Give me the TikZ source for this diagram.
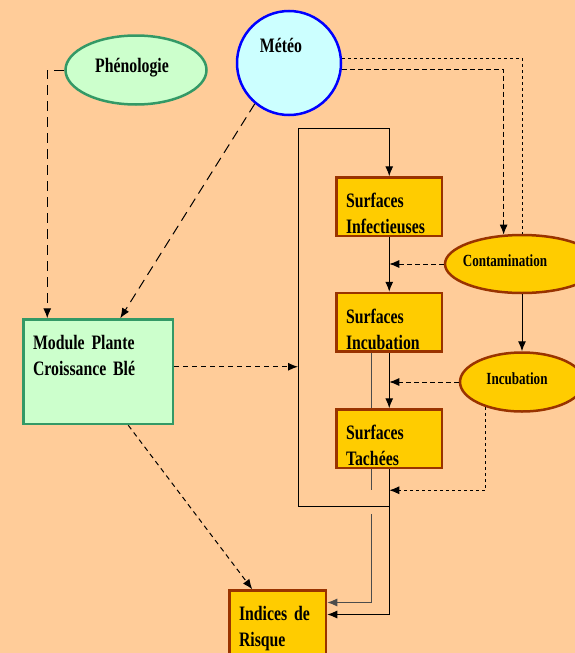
\documentclass[tikz,border=0pt]{standalone}
\usepackage{fontspec}
\setmainfont{Liberation Serif}[FakeStretch=0.77]
\usepackage{xcolor}
\definecolor{peach}{RGB}{255,204,153}
\definecolor{leaf}{RGB}{204,255,204}
\definecolor{leafline}{RGB}{51,153,102}
\definecolor{sky}{RGB}{204,255,255}
\definecolor{gold}{RGB}{255,204,0}
\definecolor{rust}{RGB}{153,51,0}
\newcommand\boxfont{\bfseries\fontsize{20.5}{26}\selectfont\spaceskip=3.4pt plus 1pt minus 1pt\relax}
\usepackage{tikz}
\usetikzlibrary{shapes,arrows.meta,positioning,calc}

\begin{document}
\begin{tikzpicture}[
  x=1pt, y=-1pt,
  node distance=54.5pt,
  box/.style={draw=rust, fill=gold, line width=2.5pt, font=\boxfont, align=left, text width=86.5pt, inner xsep=9.5pt, inner ysep=16pt, text height=14pt, text depth=12.5pt},
  greenbox/.style={box, draw=leafline, fill=leaf, text width=130.5pt, text depth=58.5pt},
  oval/.style={ellipse, draw=rust, fill=gold, line width=2.5pt, inner sep=0pt},
  lbl/.style={font=\bfseries\fontsize{20.5}{26}\selectfont, inner sep=0pt},
  smalllbl/.style={font=\bfseries\fontsize{17}{20}\selectfont, inner sep=0pt},
  flow/.style={-{Latex[length=10pt,width=8pt]}, line width=1pt},
  longdash/.style={flow, dash pattern=on 10pt off 6pt},
  meddash/.style={dash pattern=on 5pt off 4pt},
  shortdash/.style={dash pattern=on 5pt off 3pt},
  dotline/.style={line width=1pt, dash pattern=on 3pt off 3pt},
  greyline/.style={line width=1pt, draw=black!70}
]
\useasboundingbox (0,0) rectangle (575,653);
\clip (0,0) rectangle (575,653);
\fill[peach] (0,0) rectangle (575,653);

% inputs
\node[oval, draw=leafline, fill=leaf, minimum width=141pt, minimum height=69pt] (phen) at (136,70) {};
\node[lbl, anchor=base] (phenlbl) at (132,72) {Phénologie};
\node[oval, draw=blue, fill=sky, minimum size=104pt] (meteo) at (289,63) {};
\node[lbl, anchor=base] (meteolbl) at (281,52) {Météo};
\node[greenbox, anchor=north west] (plante) at (22.25,318.25) {Module Plante\\Croissance Blé};

% surfaces
\node[box, anchor=north west] (infect) at (335.25,176.25) {Surfaces\\Infectieuses};
\node[box, below=of infect] (incub) {Surfaces\\Incubation};
\node[box, below=55.5pt of incub] (tache) {Surfaces\\Tachées};
\node[box, anchor=north west, text width=77.5pt, text depth=26pt] (indices) at (228.25,589.25) {Indices de\\Risque};

% processes
\node[oval, minimum width=154pt, minimum height=58pt] (contam) at (522,264) {};
\node[smalllbl, anchor=base] (contamlbl) at (505,266) {Contamination};
\node[oval, minimum width=124pt, minimum height=59pt] (incubell) at (522,382) {};
\node[smalllbl, anchor=base] (incublbl) at (517,384) {Incubation};

\coordinate (looptl) at (298,128);
\coordinate (loopbl) at (298,506);

\draw[longdash] (phen.west) -| ([xshift=25pt]plante.north west);
\draw[longdash] (meteo.230) -- ([xshift=98pt]plante.north west);
\draw[dotline] ([yshift=5pt]meteo.east) -| (contam.north);
\draw[flow, shortdash] ([yshift=-6pt]meteo.east) -| (contam.122);
\draw[flow, meddash] ([yshift=5pt]plante.east) -- ([yshift=5pt]plante.east -| loopbl);
\draw[flow, meddash] ([xshift=106pt]plante.south west) -- ([xshift=24pt]indices.north west);

\draw[flow] (loopbl -| infect.south) -- (loopbl) -- (looptl) -| (infect.north);
\draw[flow] (infect) -- (incub);
\draw[flow] (incub) -- (tache);
\draw[flow, shortdash] (contam.west) -- (contam.west -| infect.south);
\draw[flow] (contam.south) -- (incubell.north);
\draw[flow, shortdash] (incubell.west) -- (incubell.west -| incub.south);
\draw[flow, dotline] (incubell.215) |- ([yshift=-21pt]tache.south);

\draw[flow] (tache) |- ([yshift=12pt]indices.east);
\draw[greyline] ([xshift=-18pt]incub.south) -- ([xshift=-18pt]tache.north);
\draw[greyline] ([xshift=-18pt]tache.south) -- ++(0,21);
\draw[flow, greyline] ([xshift=-18pt]tache.south) ++(0,45) |- ([yshift=24pt]indices.east);
\end{tikzpicture}
\end{document}
